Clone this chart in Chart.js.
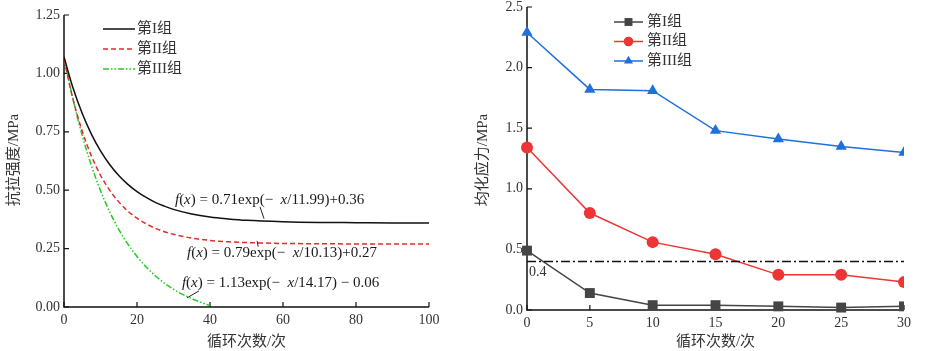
<!DOCTYPE html>
<html>
<head>
<meta charset="utf-8">
<script src="https://cdn.jsdelivr.net/npm/chart.js@4.4.1/dist/chart.umd.min.js"></script>
<style>
html, body { margin: 0; padding: 0; background: #fff; }
#wrap { position: relative; width: 929px; height: 351px; overflow: hidden; }
.panel { position: absolute; top: 0; }
</style>
</head>
<body>
<div id="wrap">
  <div class="panel" style="left:0"><canvas id="left" width="460" height="351"></canvas></div>
  <div class="panel" style="left:465px"><canvas id="right" width="464" height="351"></canvas></div>
</div>
<script>
// ---- data: left panel (fitted tensile-strength curves)
const cyclesLeft = [0, 2.5, 5, 7.5, 10, 12.5, 15, 17.5, 20, 22.5, 25, 27.5, 30, 35, 40, 45, 50, 60, 70, 80, 90, 100];
const strengthI  = [1.07, 0.936, 0.828, 0.740, 0.668, 0.610, 0.563, 0.525, 0.494, 0.469, 0.448, 0.432, 0.418, 0.398, 0.385, 0.377, 0.371, 0.365, 0.362, 0.361, 0.360, 0.360];
const strengthII = [1.06, 0.887, 0.752, 0.647, 0.564, 0.500, 0.450, 0.410, 0.380, 0.356, 0.337, 0.322, 0.311, 0.295, 0.285, 0.279, 0.276, 0.272, 0.271, 0.270, 0.270, 0.270];
const cyclesIII  = [0, 2.5, 5, 7.5, 10, 12.5, 15, 17.5, 20, 22.5, 25, 27.5, 30, 32.5, 35, 37.5, 40];
const strengthIII = [1.07, 0.887, 0.734, 0.606, 0.498, 0.408, 0.332, 0.269, 0.216, 0.171, 0.134, 0.102, 0.076, 0.054, 0.036, 0.020, 0.006];
const leftXTicks = [0, 20, 40, 60, 80, 100];
const leftYTicks = [0, 0.25, 0.5, 0.75, 1.0, 1.25];

// ---- data: right panel (homogenised stress)
const cyclesRight = [0, 5, 10, 15, 20, 25, 30];
const stressI   = [0.49, 0.14, 0.04, 0.04, 0.03, 0.02, 0.03];
const stressII  = [1.34, 0.80, 0.56, 0.46, 0.29, 0.29, 0.23];
const stressIII = [2.29, 1.82, 1.81, 1.48, 1.41, 1.35, 1.30];
const thresholdX = [0, 30];
const thresholdY = [0.4, 0.4];
const rightXTicks = [0, 5, 10, 15, 20, 25, 30];
const rightYTicks = [0, 0.5, 1.0, 1.5, 2.0, 2.5];

const groupNames = ['第I组', '第II组', '第III组'];

const SERIF = '"Liberation Serif", "Noto Sans CJK SC", serif';
const TXT = '#333';

const pts = (xs, ys) => xs.map((x, i) => ({ x, y: ys[i] }));

// fit equations, drawn as text runs [text, italic]
const fitLabels = [
    [['f', 1], ['(', 0], ['x', 1], [') = 0.71exp(\u2212  ', 0], ['x', 1], ['/11.99)+0.36', 0]],
    [['f', 1], ['(', 0], ['x', 1], [') = 0.79exp(\u2212  ', 0], ['x', 1], ['/10.13)+0.27', 0]],
    [['f', 1], ['(', 0], ['x', 1], [') = 1.13exp(\u2212  ', 0], ['x', 1], ['/14.17) \u2212 0.06', 0]],
];
const fitLabelX = [30.4, 33.7, 32.3];
const fitLabelY = [0.459, 0.232, 0.103];
const leaderFrom = [[53.7, 0.429], [52.9, 0.283], [37.0, 0.069]];
const leaderTo   = [[54.8, 0.378], [53.2, 0.258], [33.7, 0.039]];

function drawRuns(ctx, runs, x, y, size) {
    for (const [txt, italic] of runs) {
        ctx.font = (italic ? 'italic ' : '') + size + 'px ' + SERIF;
        ctx.fillText(txt, x, y);
        x += ctx.measureText(txt).width;
    }
}

function fixedTicks(values) {
    return scale => { scale.ticks = values.map(v => ({ value: v })); };
}

// keep the plot box where we put it: no label overflow padding
function fixHeight(h) {
    return s => { s.height = h; s.paddingLeft = 0; s.paddingRight = 0; };
}
function fixWidth(w) {
    return s => { s.width = w; s.paddingTop = 0; s.paddingBottom = 0; };
}

// axis lines + inward tick marks + titles
function axesPlugin(xTitle, yTitle, yTitleX) {
    return {
        id: 'axes',
        beforeDatasetsDraw(chart) {
            const { ctx, chartArea: a, scales: { x, y } } = chart;
            ctx.save();
            ctx.strokeStyle = '#111';
            ctx.lineWidth = 1.5;
            ctx.beginPath();
            ctx.moveTo(a.left, a.top);
            ctx.lineTo(a.left, a.bottom);
            ctx.lineTo(a.right, a.bottom);
            ctx.stroke();
            ctx.lineWidth = 1.2;
            ctx.beginPath();
            x.ticks.forEach(t => {
                const px = x.getPixelForValue(t.value);
                ctx.moveTo(px, a.bottom);
                ctx.lineTo(px, a.bottom - 5);
            });
            y.ticks.forEach(t => {
                const py = y.getPixelForValue(t.value);
                ctx.moveTo(a.left, py);
                ctx.lineTo(a.left + 5, py);
            });
            ctx.stroke();

            ctx.fillStyle = TXT;
            ctx.font = '15px ' + SERIF;
            ctx.textAlign = 'center';
            ctx.textBaseline = 'middle';
            ctx.fillText(xTitle, (a.left + a.right) / 2, 342);
            ctx.translate(yTitleX, 160);
            ctx.rotate(-Math.PI / 2);
            ctx.fillText(yTitle, 0, 0);
            ctx.restore();
        }
    };
}

const leftDash = [[], [5, 3], [6, 2, 1.5, 2, 1.5, 2]];
const leftColors = ['#111111', '#e52a2a', '#22cc22'];

const leftDecor = {
    id: 'leftDecor',
    afterDatasetsDraw(chart) {
        const { ctx, scales: { x, y } } = chart;
        ctx.save();
        // legend
        groupNames.forEach((name, i) => {
            const yy = 29 + i * 20;
            ctx.strokeStyle = leftColors[i];
            ctx.lineWidth = 1.5;
            ctx.setLineDash(leftDash[i]);
            ctx.beginPath();
            ctx.moveTo(103, yy);
            ctx.lineTo(135, yy);
            ctx.stroke();
            ctx.setLineDash([]);
            ctx.fillStyle = TXT;
            ctx.font = '15px ' + SERIF;
            ctx.textBaseline = 'middle';
            ctx.textAlign = 'left';
            ctx.fillText(name, 137, yy);
        });
        // fit equations with leader lines
        ctx.strokeStyle = '#222';
        ctx.lineWidth = 1;
        fitLabels.forEach((runs, i) => {
            ctx.fillStyle = '#1a1a1a';
            ctx.textBaseline = 'middle';
            drawRuns(ctx, runs, x.getPixelForValue(fitLabelX[i]), y.getPixelForValue(fitLabelY[i]), 15);
            ctx.beginPath();
            ctx.moveTo(x.getPixelForValue(leaderFrom[i][0]), y.getPixelForValue(leaderFrom[i][1]));
            ctx.lineTo(x.getPixelForValue(leaderTo[i][0]), y.getPixelForValue(leaderTo[i][1]));
            ctx.stroke();
        });
        ctx.restore();
    }
};

const tickFont = { family: SERIF, size: 14, lineHeight: 1 };

new Chart(document.getElementById('left'), {
    type: 'line',
    data: {
        datasets: [
            { data: pts(cyclesLeft, strengthI), borderColor: leftColors[0], borderWidth: 1.5 },
            { data: pts(cyclesLeft, strengthII), borderColor: leftColors[1], borderWidth: 1.5, borderDash: leftDash[1] },
            { data: pts(cyclesIII, strengthIII), borderColor: leftColors[2], borderWidth: 1.5, borderDash: leftDash[2] },
        ]
    },
    options: {
        responsive: false,
        animation: false,
        events: [],
        layout: { padding: { top: 15, right: 31, left: 0, bottom: 0 } },
        elements: { point: { radius: 0 }, line: { cubicInterpolationMode: 'monotone', fill: false } },
        plugins: { legend: { display: false }, tooltip: { enabled: false } },
        scales: {
            x: {
                type: 'linear', min: 0, max: 100,
                afterBuildTicks: fixedTicks(leftXTicks),
                afterFit: fixHeight(44),
                grid: { display: false, drawTicks: false },
                border: { display: false },
                ticks: { color: TXT, font: tickFont, padding: 6, maxRotation: 0 }
            },
            y: {
                min: 0, max: 1.25,
                afterBuildTicks: fixedTicks(leftYTicks),
                afterFit: fixWidth(64),
                grid: { display: false, drawTicks: false },
                border: { display: false },
                ticks: { color: TXT, font: tickFont, padding: 4, callback: v => v.toFixed(2) }
            }
        }
    },
    plugins: [axesPlugin('循环次数/次', '抗拉强度/MPa', 14), leftDecor]
});

// ---- right panel
const rightColors = ['#454545', '#ee3535', '#1f6fdc'];
const rightMarkers = ['rect', 'circle', 'triangle'];
const rightRadius = [7, 6, 6.5];

const rightDecor = {
    id: 'rightDecor',
    afterDatasetsDraw(chart) {
        const { ctx, scales: { x, y } } = chart;
        ctx.save();
        groupNames.forEach((name, i) => {
            const yy = 22 + i * 19.5;
            ctx.strokeStyle = rightColors[i];
            ctx.lineWidth = 1.5;
            ctx.beginPath();
            ctx.moveTo(149, yy);
            ctx.lineTo(178, yy);
            ctx.stroke();
            ctx.fillStyle = rightColors[i];
            Chart.helpers.drawPoint(ctx, { pointStyle: rightMarkers[i], radius: rightRadius[i] * 0.8, borderWidth: 0 }, 163.5, yy);
            ctx.fillStyle = TXT;
            ctx.font = '15px ' + SERIF;
            ctx.textBaseline = 'middle';
            ctx.textAlign = 'left';
            ctx.fillText(name, 182, yy);
        });
        ctx.fillStyle = TXT;
        ctx.font = '14px ' + SERIF;
        ctx.textBaseline = 'middle';
        ctx.fillText(thresholdY[0].toFixed(1), x.getPixelForValue(thresholdX[0]) + 2, y.getPixelForValue(thresholdY[0]) + 11);
        ctx.restore();
    }
};

const markerSet = (i, xs, ys) => ({
    data: pts(xs, ys),
    borderColor: rightColors[i],
    backgroundColor: rightColors[i],
    borderWidth: 1.5,
    pointStyle: rightMarkers[i],
    pointRadius: rightRadius[i],
    pointBorderWidth: 0,
    clip: { left: 12, top: 12, right: 0, bottom: 12 }
});

new Chart(document.getElementById('right'), {
    type: 'line',
    data: {
        datasets: [
            { data: pts(thresholdX, thresholdY), borderColor: '#111', borderWidth: 1.3, borderDash: [9, 3, 2, 3], pointRadius: 0 },
            markerSet(0, cyclesRight, stressI),
            markerSet(1, cyclesRight, stressII),
            markerSet(2, cyclesRight, stressIII),
        ]
    },
    options: {
        responsive: false,
        animation: false,
        events: [],
        layout: { padding: { top: 7, right: 25, left: 0, bottom: 0 } },
        elements: { line: { tension: 0, fill: false } },
        plugins: { legend: { display: false }, tooltip: { enabled: false } },
        scales: {
            x: {
                type: 'linear', min: 0, max: 30,
                afterBuildTicks: fixedTicks(rightXTicks),
                afterFit: fixHeight(41),
                grid: { display: false, drawTicks: false },
                border: { display: false },
                ticks: { color: TXT, font: tickFont, padding: 6, maxRotation: 0 }
            },
            y: {
                min: 0, max: 2.5,
                afterBuildTicks: fixedTicks(rightYTicks),
                afterFit: fixWidth(62),
                grid: { display: false, drawTicks: false },
                border: { display: false },
                ticks: { color: TXT, font: tickFont, padding: 4, callback: v => v.toFixed(1) }
            }
        }
    },
    plugins: [axesPlugin('循环次数/次', '均化应力/MPa', 18), rightDecor]
});
</script>
</body>
</html>
